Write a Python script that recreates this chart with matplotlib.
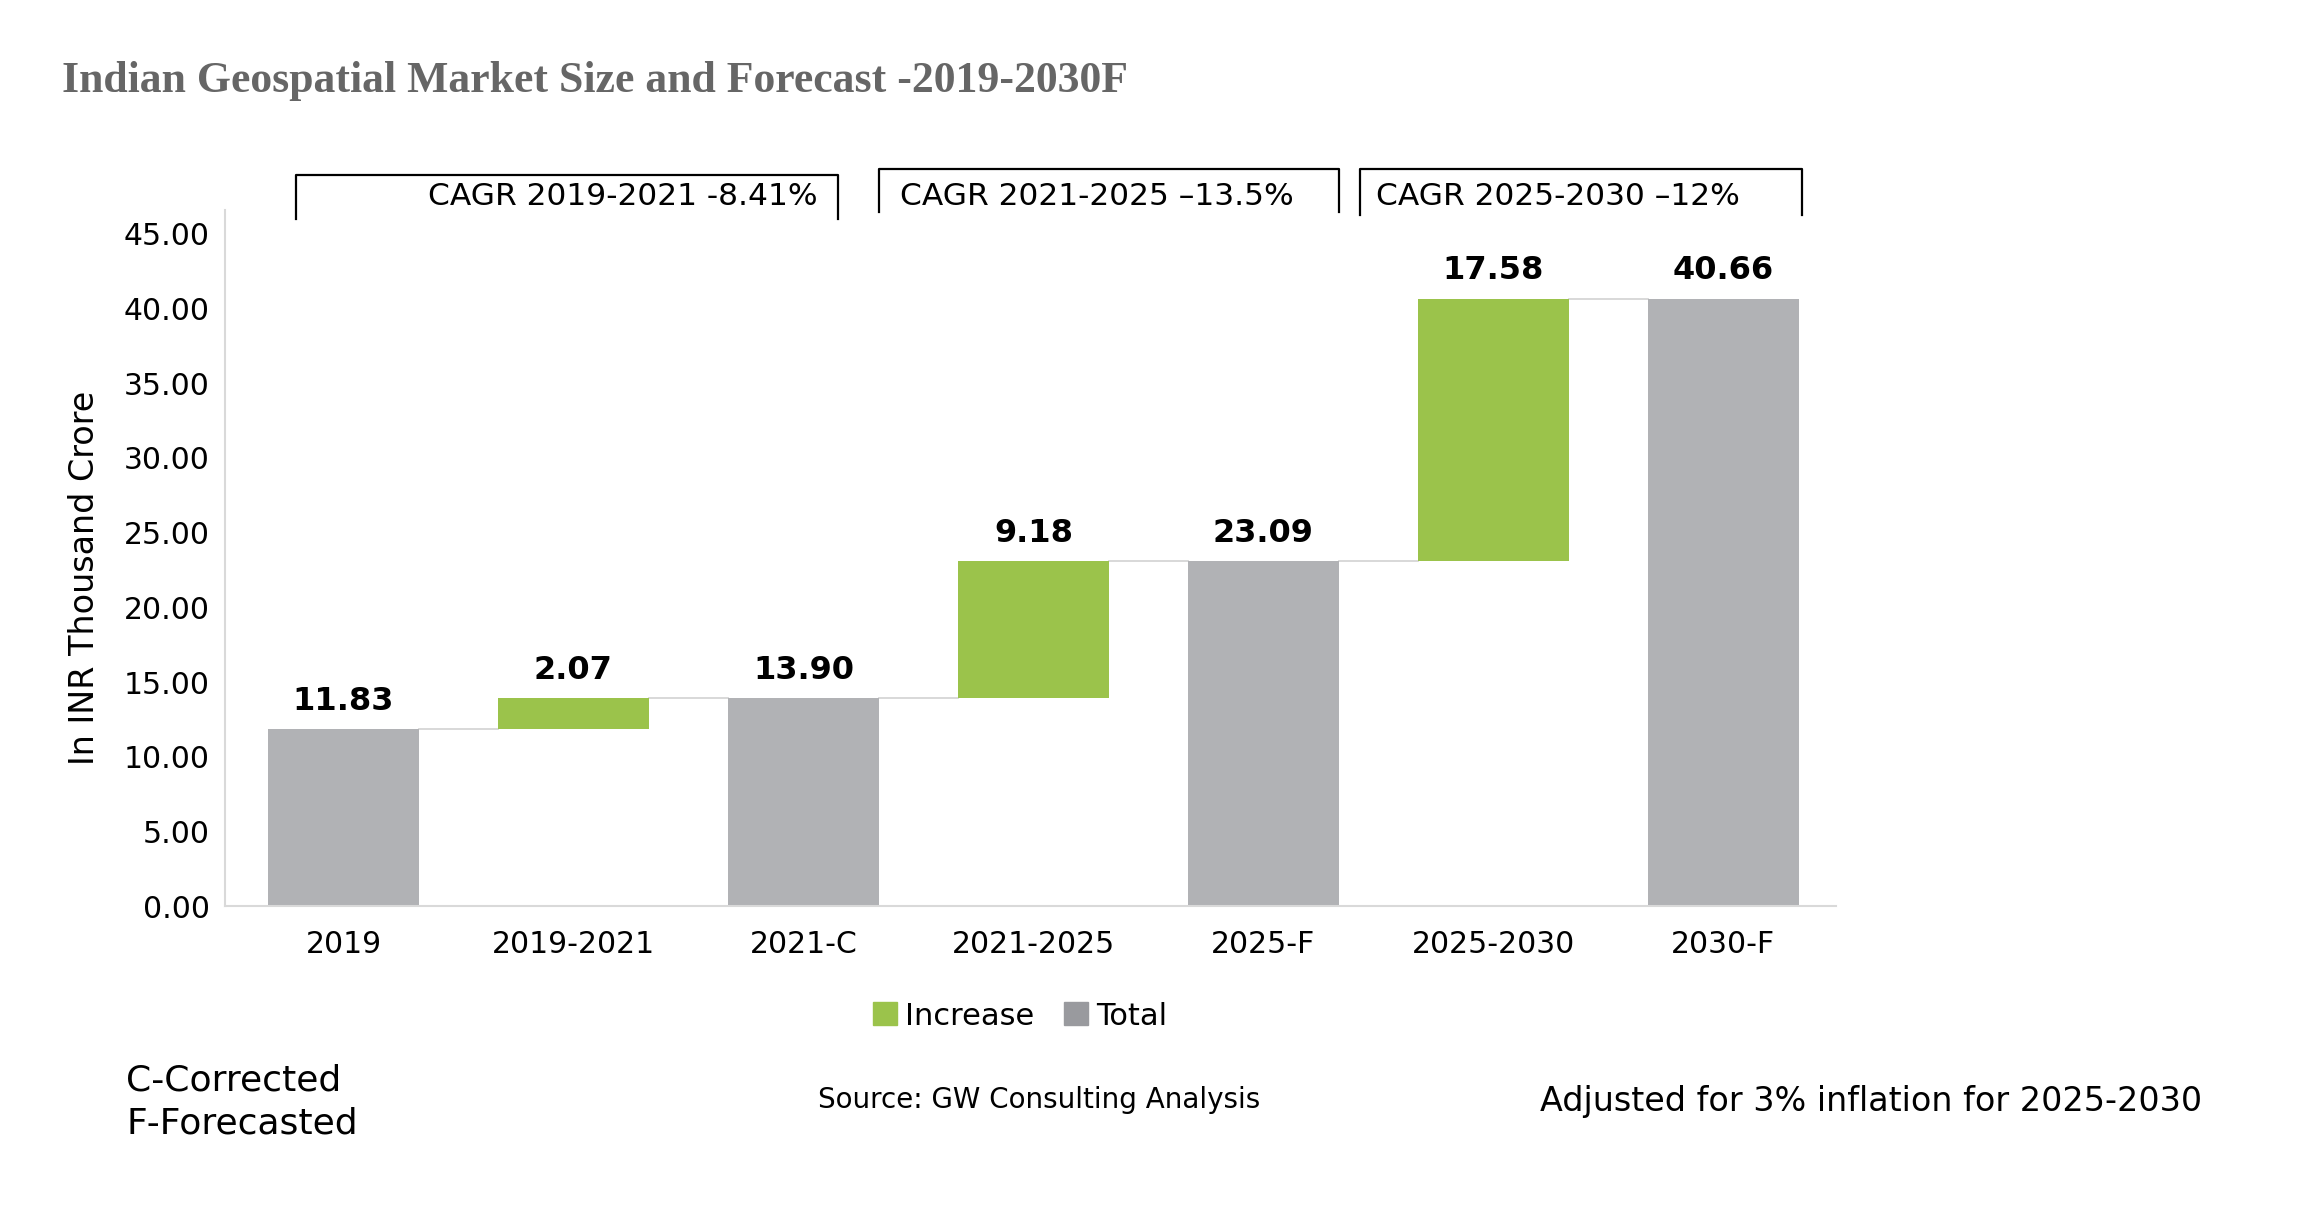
import matplotlib
matplotlib.use("Agg")
import matplotlib.pyplot as plt
import matplotlib.transforms as mtransforms
from matplotlib.patches import Patch

# Data
categories = ["2019", "2019-2021", "2021-C", "2021-2025", "2025-F", "2025-2030", "2030-F"]
values = [11.83, 2.07, 13.90, 9.18, 23.09, 17.58, 40.66]
is_total = [True, False, True, False, True, False, True]
y_ticks = [0, 5, 10, 15, 20, 25, 30, 35, 40, 45]
cagr_labels = ["CAGR 2019-2021 -8.41%", "CAGR 2021-2025 \u201313.5%", "CAGR 2025-2030 \u201312%"]

GREEN = "#9bc34b"
GREY = "#b1b2b5"
GREY_LEGEND = "#999a9e"
LINE_GREY = "#d6d6d6"
BAR_WIDTH = 0.656

# bracket layout: (x_left, x_right, top, bottom) with x in data units, y in axes fraction
brackets = [(-0.206, 2.15, 1.050, 0.987),
            (2.33, 4.33, 1.059, 0.997),
            (4.42, 6.34, 1.059, 0.993)]
# text layout: (x, ha)
cagr_pos = [(2.06, "right"), (2.42, "left"), (4.49, "left")]


def waterfall_bottoms(values, is_total):
    bottoms = []
    running = 0
    for v, tot in zip(values, is_total):
        if tot:
            bottoms.append(0)
            running = v
        else:
            bottoms.append(running)
            running += v
    return bottoms


fig = plt.figure(figsize=(23.22, 12.10), dpi=100)
ax = fig.add_axes([0.0969, 0.2512, 0.6938, 0.5752])

x = list(range(len(categories)))
bottoms = waterfall_bottoms(values, is_total)
colors = [GREY if t else GREEN for t in is_total]

ax.bar(x, values, bottom=bottoms, width=BAR_WIDTH, color=colors, zorder=2)

# connector lines between neighbouring bars
for i in range(len(values) - 1):
    level = bottoms[i] + values[i]
    ax.plot([i + BAR_WIDTH / 2, i + 1 - BAR_WIDTH / 2], [level, level],
            color=LINE_GREY, lw=1.3, zorder=1)

# value labels
for i, (v, b) in enumerate(zip(values, bottoms)):
    ax.annotate(f"{v:.2f}", (i, b + v), xytext=(0, 9), textcoords="offset points",
                ha="center", va="bottom", fontsize=23, fontweight="bold", color="black")

ax.set_xlim(-0.515, 6.49)
ax.set_ylim(0, 46.6)
ax.set_xticks(x)
ax.set_xticklabels(categories)
ax.set_yticks(y_ticks)
ax.set_yticklabels([f"{t:.2f}" for t in y_ticks])
ax.tick_params(axis="both", length=0, labelsize=21.5)
ax.tick_params(axis="y", pad=11)
ax.tick_params(axis="x", pad=17)

for side in ["top", "right"]:
    ax.spines[side].set_visible(False)
for side in ["left", "bottom"]:
    ax.spines[side].set_color("#d9d9d9")
    ax.spines[side].set_linewidth(1.5)

ax.set_ylabel("In INR Thousand Crore", fontsize=24)
ax.yaxis.set_label_coords(-0.077, 0.471)

# CAGR brackets above the bars
trans = mtransforms.blended_transform_factory(ax.transData, ax.transAxes)
for (xl, xr, top, bot), label, (tx, ha) in zip(brackets, cagr_labels, cagr_pos):
    ax.plot([xl, xl, xr, xr], [bot, top, top, bot], color="black", lw=1.6,
            transform=trans, clip_on=False)
    ax.text(tx, 1.019, label, transform=trans, ha=ha, va="center", fontsize=22.5)

# legend
handles = [Patch(color=GREEN), Patch(color=GREY_LEGEND)]
fig.legend(handles, ["Increase", "Total"], loc="center", bbox_to_anchor=(0.4393, 0.1603),
           ncol=2, frameon=False, fontsize=22, handlelength=0.78, handleheight=0.78,
           handletextpad=0.25, columnspacing=1.0)

# title and footnotes
fig.text(0.0267, 0.933, "Indian Geospatial Market Size and Forecast -2019-2030F",
         family="Liberation Serif", fontweight="bold", fontsize=31.5, color="#666666", va="center")
fig.text(0.0543, 0.1074, "C-Corrected", fontsize=26, va="center")
fig.text(0.0543, 0.0711, "F-Forecasted", fontsize=26, va="center")
fig.text(0.3523, 0.0909, "Source: GW Consulting Analysis", fontsize=20, va="center")
fig.text(0.6632, 0.0893, "Adjusted for 3% inflation for 2025-2030", fontsize=24, va="center")

fig.savefig("out.png", dpi=100, facecolor="white")
